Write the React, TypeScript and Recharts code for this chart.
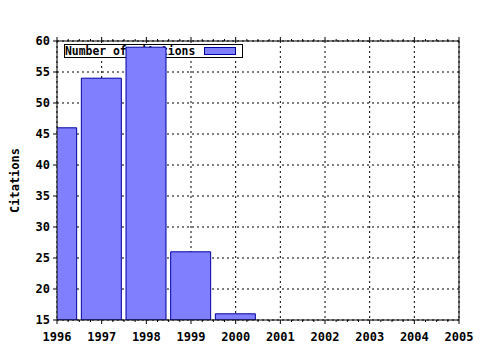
import React from 'react';
import {
  BarChart,
  Bar,
  XAxis,
  YAxis,
  CartesianGrid,
} from 'recharts';

const years = [1996, 1997, 1998, 1999, 2000];
const citations = [46, 54, 59, 26, 16];

const yearTicks = [1996, 1997, 1998, 1999, 2000, 2001, 2002, 2003, 2004, 2005];
const quarterTicks = [
  1996, 1996.25, 1996.5, 1996.75, 1997, 1997.25, 1997.5, 1997.75,
  1998, 1998.25, 1998.5, 1998.75, 1999, 1999.25, 1999.5, 1999.75,
  2000, 2000.25, 2000.5, 2000.75, 2001, 2001.25, 2001.5, 2001.75,
  2002, 2002.25, 2002.5, 2002.75, 2003, 2003.25, 2003.5, 2003.75,
  2004, 2004.25, 2004.5, 2004.75, 2005,
];
const citationTicks = [15, 20, 25, 30, 35, 40, 45, 50, 55, 60];

const data = years.map((y, i) => ({ year: y, citations: citations[i] }));

const FONT = '"DejaVu Sans Mono", monospace';

const BottomTick = (props: any) => {
  const { x, y, payload } = props;
  const major = Number.isInteger(payload.value);
  return (
    <g>
      <line x1={x} x2={x} y1={y} y2={y + (major ? 4 : 2)} stroke="#000" />
      {major && (
        <text
          x={x}
          y={y + 21}
          textAnchor="middle"
          fontFamily={FONT}
          fontWeight="bold"
          fontSize={12}
          fill="#000"
        >
          {payload.value}
        </text>
      )}
    </g>
  );
};

const TopTick = (props: any) => {
  const { x, y, payload } = props;
  const major = Number.isInteger(payload.value);
  return <line x1={x} x2={x} y1={y} y2={y - (major ? 4 : 2)} stroke="#000" />;
};

export default function App() {
  return (
    <div style={{ position: 'absolute', left: 0, top: 0, width: 480, height: 350, background: '#fff' }}>
      <BarChart
        width={480}
        height={350}
        data={data}
        margin={{ top: 40, right: 20, bottom: 0, left: 0 }}
      >
        <XAxis
          xAxisId="grid"
          dataKey="year"
          type="number"
          domain={[1996, 2005]}
          ticks={yearTicks}
          allowDataOverflow
          hide
          height={0}
        />
        <CartesianGrid
          xAxisId="grid"
          stroke="#000"
          strokeDasharray="2 3"
          horizontal
          vertical
        />
        <g>
          <rect x={64.5} y={44.5} width={178} height={13} fill="#fff" stroke="#000" />
          <text x={65} y={55} fontFamily={FONT} fontWeight="bold" fontSize={11.4} fill="#000">
            Number of citations
          </text>
          <rect x={204.5} y={47.5} width={31} height={7} fill="#8080ff" stroke="#0000a0" />
        </g>
        <XAxis
          dataKey="year"
          type="number"
          domain={[1996, 2005]}
          ticks={quarterTicks}
          interval={0}
          allowDataOverflow
          height={30}
          stroke="#000"
          tickLine={false}
          tickSize={0}
          tickMargin={0}
          tick={<BottomTick />}
        />
        <XAxis
          xAxisId="top"
          orientation="top"
          dataKey="year"
          type="number"
          domain={[1996, 2005]}
          ticks={quarterTicks}
          interval={0}
          allowDataOverflow
          height={1}
          stroke="#000"
          tickLine={false}
          tickSize={0}
          tickMargin={0}
          tick={<TopTick />}
        />
        <YAxis
          type="number"
          domain={[15, 60]}
          ticks={citationTicks}
          interval={0}
          allowDataOverflow
          width={57}
          stroke="#000"
          tickSize={4}
          tickMargin={3}
          tick={{ fill: '#000', fontFamily: FONT, fontWeight: 'bold', fontSize: 12 }}
          label={{
            value: 'Citations',
            angle: -90,
            position: 'center',
            dx: -14,
            fill: '#000',
            fontFamily: FONT,
            fontWeight: 'bold',
            fontSize: 12,
          }}
        />
        <YAxis
          yAxisId="right"
          orientation="right"
          type="number"
          domain={[15, 60]}
          width={1}
          stroke="#000"
          tick={false}
          tickLine={false}
        />
        <Bar
          dataKey="citations"
          fill="#8080ff"
          stroke="#0000a0"
          strokeWidth={1}
          barSize={40}
          isAnimationActive={false}
        />
      </BarChart>
    </div>
  );
}
